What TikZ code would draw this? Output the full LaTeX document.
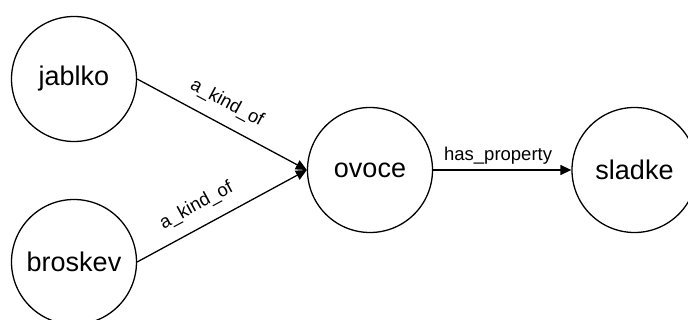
\documentclass[tikz,border=0pt]{standalone}
\usepackage{fontspec}
\setmainfont{Liberation Sans}
\usetikzlibrary{arrows.meta}
\begin{document}
\begin{tikzpicture}[x=1pt,y=-1pt,
  concept/.style={circle, draw, line width=1.3pt, minimum size=125pt, inner sep=0pt,
    font=\fontsize{27}{30}\selectfont},
  relation/.style={line width=1.3pt, -{Triangle[length=11pt,width=10pt]}},
  rellabel/.style={font=\fontsize{18.5}{22}\selectfont, inner sep=0pt, sloped}]
  \useasboundingbox (0,0) rectangle (688,320);

  % concepts
  \node[concept] (jablko)  at (74,79)    {jablko};
  \node[concept] (broskev) at (74,262)   {broskev};
  \node[concept] (ovoce)   at (370,170)  {ovoce};
  \node[concept] (sladke)  at (634.5,170) {sladke};

  % relations
  \draw[relation] (jablko.east) -- node[rellabel, pos=0.47, above=12pt] {a\_kind\_of} (ovoce.west);
  \draw[relation] (broskev.east) -- node[rellabel, pos=0.41, above=12pt] {a\_kind\_of} (ovoce.west);
  \draw[relation] (ovoce.east) -- node[rellabel, pos=0.47, above=5pt] {has\_property} (sladke.west);
\end{tikzpicture}
\end{document}
